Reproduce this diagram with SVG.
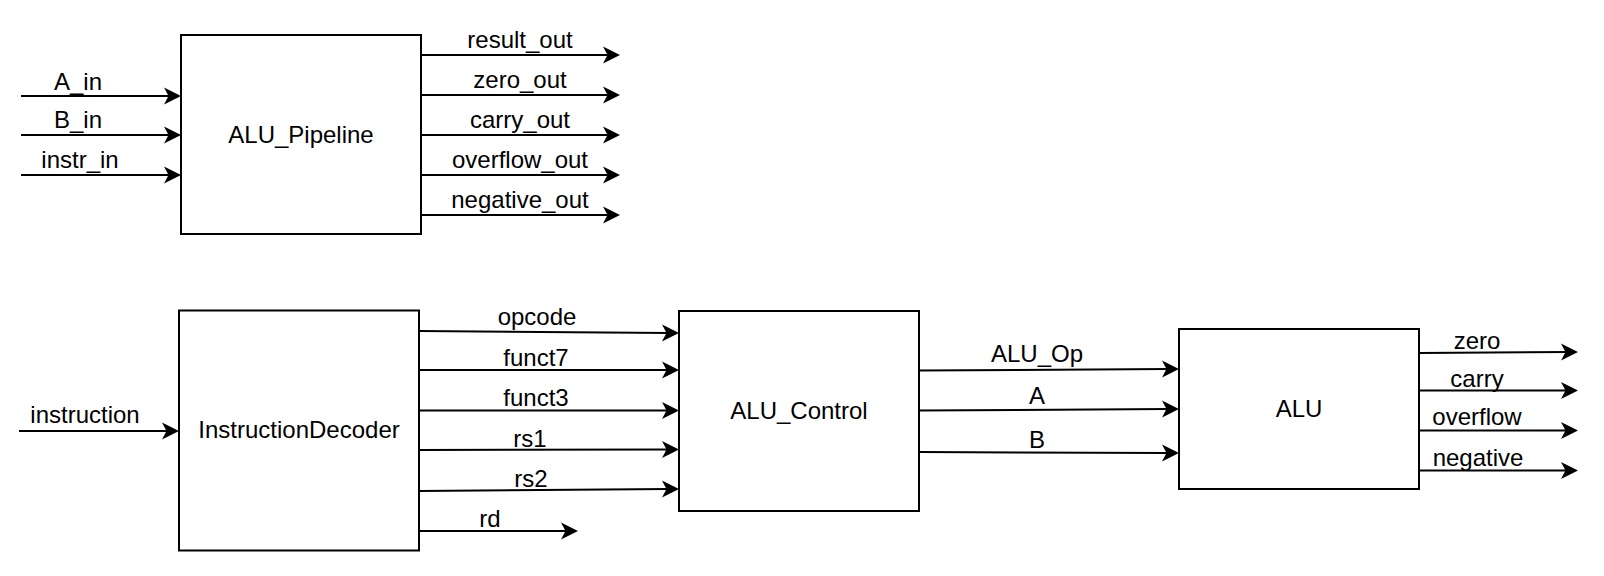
<svg xmlns="http://www.w3.org/2000/svg" width="1604" height="576" viewBox="0 0 1604 576">
<style>
.box{fill:#fff;stroke:#000;stroke-width:2}
.t{font-family:"Liberation Sans",Arial,Helvetica,sans-serif;font-size:24px;fill:#000;text-anchor:middle}
.c{fill:none;stroke:#000;stroke-width:2;marker-end:url(#arr)}
</style>
<defs>
<marker id="arr" markerUnits="userSpaceOnUse" viewBox="-10 -10 22 20" refX="0" refY="0" markerWidth="22" markerHeight="20" orient="auto">
<path d="M10,0 L-7,-8.5 L-2.5,0 L-7,8.5 Z" fill="#000"/>
</marker>
</defs>
<rect width="1604" height="576" fill="#fff"/>
<g id="connectors">
<path class="c" d="M21,96 H171"/>
<path class="c" d="M21,135 H171"/>
<path class="c" d="M21,175 H171"/>
<path class="c" d="M421,55 H610"/>
<path class="c" d="M421,95 H610"/>
<path class="c" d="M421,135 H610"/>
<path class="c" d="M421,175 H610"/>
<path class="c" d="M421,215 H610"/>
<path class="c" d="M19,431 H169"/>
<path class="c" d="M419,331 L669,333"/>
<path class="c" d="M419,370 L669,370"/>
<path class="c" d="M419,410.5 L669,410.5"/>
<path class="c" d="M419,450 L669,449.5"/>
<path class="c" d="M419,491 L669,489"/>
<path class="c" d="M419,531 H568"/>
<path class="c" d="M919,370.5 L1169,369"/>
<path class="c" d="M919,410.5 L1169,409"/>
<path class="c" d="M919,452 L1169,453"/>
<path class="c" d="M1419,353 L1568,352"/>
<path class="c" d="M1419,390.5 H1568"/>
<path class="c" d="M1419,430.5 H1568"/>
<path class="c" d="M1419,470.5 H1568"/>
<g class="t">
<text x="78" y="90">A_in</text>
<text x="78" y="128">B_in</text>
<text x="80" y="168">instr_in</text>
<text x="520" y="48">result_out</text>
<text x="520" y="88">zero_out</text>
<text x="520" y="128">carry_out</text>
<text x="520" y="168">overflow_out</text>
<text x="520" y="208">negative_out</text>
<text x="85" y="423">instruction</text>
<text x="537" y="325">opcode</text>
<text x="536" y="366">funct7</text>
<text x="536" y="406">funct3</text>
<text x="530" y="447">rs1</text>
<text x="531" y="487">rs2</text>
<text x="490" y="527">rd</text>
<text x="1037" y="362">ALU_Op</text>
<text x="1037" y="404">A</text>
<text x="1037" y="448">B</text>
<text x="1477" y="349">zero</text>
<text x="1477" y="387">carry</text>
<text x="1477" y="425">overflow</text>
<text x="1478" y="466">negative</text>
</g>
</g>
<g id="ALU_Pipeline">
<rect class="box" x="181" y="35" width="240" height="199"/>
<text class="t" x="301" y="143">ALU_Pipeline</text>
</g>
<g id="InstructionDecoder">
<rect class="box" x="179" y="310.5" width="240" height="240"/>
<text class="t" x="299" y="438">InstructionDecoder</text>
</g>
<g id="ALU_Control">
<rect class="box" x="679" y="311" width="240" height="200"/>
<text class="t" x="799" y="419">ALU_Control</text>
</g>
<g id="ALU">
<rect class="box" x="1179" y="329" width="240" height="160"/>
<text class="t" x="1299" y="417">ALU</text>
</g>
</svg>
